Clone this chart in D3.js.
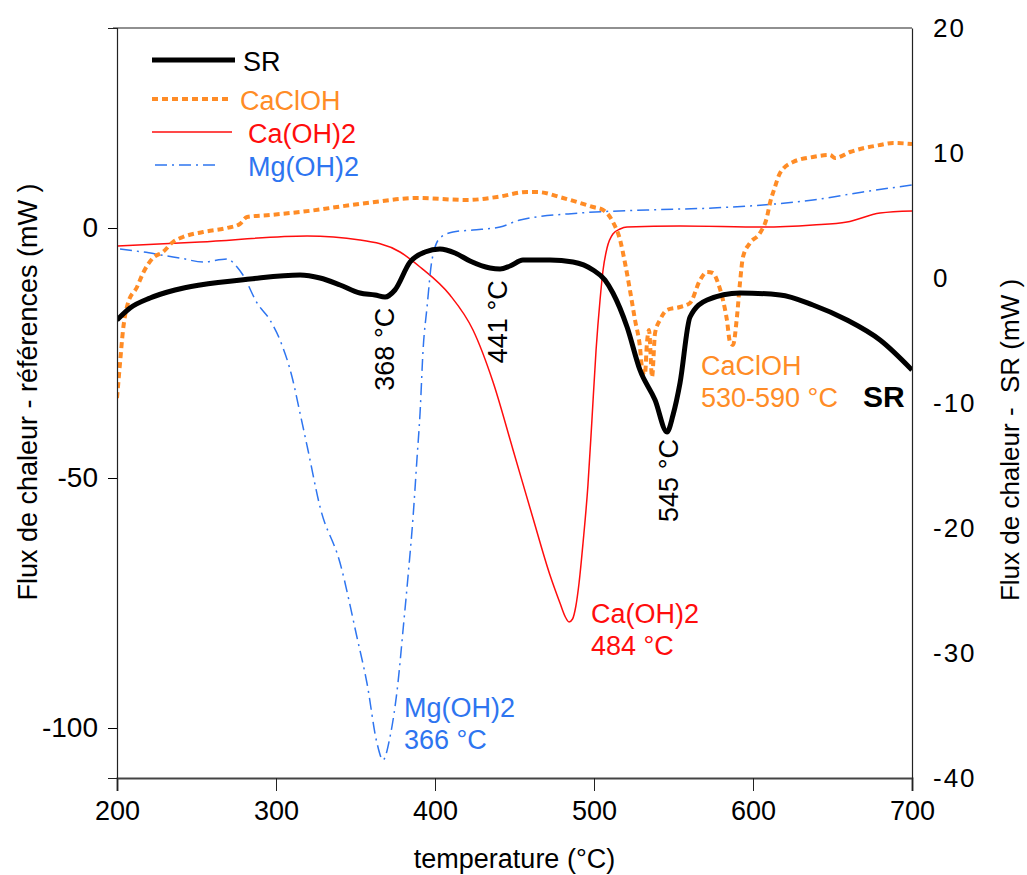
<!DOCTYPE html>
<html><head><meta charset="utf-8">
<script src="https://cdn.jsdelivr.net/npm/d3@7/dist/d3.min.js"></script>
<style>
html,body{margin:0;padding:0;background:#fff;}
svg text{font-family:"Liberation Sans",Arial,sans-serif;}
</style></head>
<body>
<svg id="chart" width="1027" height="875"></svg>
<script>
// ---- data (temperature °C, heat flow mW) ----
const srT = [200,208.2,220.8,236.5,252.2,283.6,315.1,327.7,340.3,352.8,362.3,368.6,374.8,384.3,393.7,403.1,412.6,422,434.6,440.9,447.2,455.3,472.3,486.8,499.4,506.9,511.9,520.8,528.9,538.4,545.9,549.7,554.1,560.4,571.1,591.8,617,637.7,659.1,679.9,700];
const srV = [-3.36,-2.4,-1.6,-0.96,-0.56,-0.08,0.24,0,-0.56,-1.2,-1.36,-1.52,-0.96,1.28,2.08,2.32,2.0,1.36,0.8,0.72,0.96,1.44,1.44,1.28,0.64,-0.16,-1.2,-3.92,-7.36,-9.76,-12.32,-10.96,-8.4,-3.12,-1.76,-1.2,-1.36,-2.16,-3.36,-4.96,-7.36];

const caclohT = [200,200.6,201.9,203.8,206.9,212.6,216.4,222.6,228.9,235.2,241.5,254.1,269.2,277.3,281.8,296.2,315.1,357.2,388.7,420.1,439,457.9,464.2,480.5,499.4,505.7,511.9,516.4,519.5,522.6,525.8,528.9,530.2,532,533.3,534.6,536.5,538.4,541.5,545.9,554.1,560.4,566.7,571.1,574.8,578,581.1,583.6,585.5,587.4,589.9,591.8,593.7,598.1,604.4,608.8,610.7,613.8,617,625.2,637.7,648.4,651.6,661,679.9,688.1,700];
const caclohV = [-34,-31.8,-27,-20.4,-15,-11.8,-9,-6,-4.8,-2.8,-1.8,-0.8,0,0.8,2.2,2.6,3.2,5,6,5.6,6.2,7.2,7.2,6,4.2,3.6,1.2,-2.4,-7,-12.4,-18.4,-23.8,-28,-29.4,-23,-20.4,-29.8,-21,-18.4,-16.4,-15.8,-15,-10.4,-8.8,-9,-11,-14.4,-18.4,-22.8,-23.4,-17.8,-11,-5.8,-3,-1,2.2,5,8.2,11,13.2,14.2,14.6,14,15.2,16.6,17,16.8];

const caohT = [200,252.2,319.5,352.8,378,390.6,409.4,423.9,436.5,449.1,461.6,472.3,478.6,482,484.3,486.5,488.6,490.6,493.1,496.2,498.7,501.3,503.8,505.7,508.2,511.9,516.4,520.8,554.1,606.3,637.7,659.1,679.9,700];
const caohV = [-3.6,-2.8,-1.6,-2.4,-4.8,-7.8,-13.4,-20.4,-30.8,-44.4,-58,-69.4,-75,-77.8,-78.8,-78.2,-75.6,-71,-63,-51.4,-38.4,-24.4,-14.4,-8.4,-4,-1.2,-0.2,0.2,0.4,0.2,0.6,1.2,3,3.4];

const mgohT = [201.9,216.4,231.4,239.6,254.1,269.2,275.5,279.2,288.1,296.2,302.5,310.1,315.1,320.1,327.7,340.3,350.9,357.2,363.5,367.3,371.7,376.7,379.9,383,386.2,388.7,390.6,392.5,395,398.1,403.1,411.3,423.9,440.9,453.5,491.2,533.3,574.8,606.3,637.7,669.2,700];
const mgohV = [-4.2,-4.8,-5.6,-6,-6.8,-6.2,-7.8,-9.4,-15,-18.4,-22.4,-29.8,-37,-44.4,-55.8,-67,-81.8,-91,-103,-106.4,-101.8,-91,-80.4,-69.8,-57.8,-46,-37,-24.4,-15.8,-6.4,-2,-0.8,-0.4,0.2,1.6,3,3.6,4,4.6,5.6,7.2,8.6];

const xTicks = [200,300,400,500,600,700];
const leftTicks = [-100,-50,0];
const rightTicks = [20,10,0,-10,-20,-30,-40];
const legendNames = ["SR","CaClOH","Ca(OH)2","Mg(OH)2"];

// ---- layout ----
const svg = d3.select("#chart");
const L = 117, R = 912, T = 28, B = 778;
const x = d3.scaleLinear().domain([200,700]).range([L,R]);
const yL = d3.scaleLinear().domain([-110,40]).range([B,T]);
const yR = d3.scaleLinear().domain([-40,20]).range([B,T]);
const fmt = d => String(d);

const colors = {SR:"#000000", CaClOH:"#ff8c26", "Ca(OH)2":"#ff0d0d", "Mg(OH)2":"#2e75f0"};
const styles = {
  SR:{w:5, dash:null},
  CaClOH:{w:4, dash:"6,4"},
  "Ca(OH)2":{w:1.5, dash:null},
  "Mg(OH)2":{w:1.5, dash:"12,5,2,5"}
};

svg.append("clipPath").attr("id","clip").append("rect")
  .attr("x",L).attr("y",T-2).attr("width",R-L).attr("height",B-T+4);

function drawSeries(name, ts, vs, yScale){
  const data = ts.map((t,i)=>[t,vs[i]]);
  const line = d3.line().x(d=>x(d[0])).y(d=>yScale(d[1])).curve(d3.curveMonotoneX);
  svg.append("path").datum(data)
    .attr("d",line).attr("fill","none")
    .attr("stroke",colors[name]).attr("stroke-width",styles[name].w)
    .attr("stroke-dasharray",styles[name].dash)
    .attr("stroke-linejoin","round")
    .attr("clip-path","url(#clip)");
}
drawSeries("Ca(OH)2", caohT, caohV, yL);
drawSeries("Mg(OH)2", mgohT, mgohV, yL);
drawSeries("CaClOH", caclohT, caclohV, yL);
drawSeries("SR", srT, srV, yR);

// ---- frame & axes ----
svg.append("line").attr("x1",L-4).attr("x2",R).attr("y1",T).attr("y2",T).attr("stroke","#222").attr("stroke-width",1.2);

const xAxis = svg.append("g").attr("transform",`translate(0,${B})`)
  .call(d3.axisBottom(x).tickValues(xTicks).tickSize(13).tickPadding(10).tickFormat(fmt));
xAxis.select(".domain").attr("stroke","#444").attr("stroke-width",2);
xAxis.selectAll(".tick line").attr("stroke","#222");
xAxis.selectAll("text").attr("font-size",27).attr("fill","#000").attr("font-family","Liberation Sans, Arial, sans-serif");

const lAxis = svg.append("g").attr("transform",`translate(${L},0)`)
  .call(d3.axisLeft(yL).tickValues(leftTicks).tickSize(9).tickPadding(10).tickFormat(fmt));
lAxis.select(".domain").attr("stroke","#222").attr("stroke-width",1.2);
lAxis.selectAll("text").attr("font-size",28).attr("fill","#000").attr("font-family","Liberation Sans, Arial, sans-serif");

const rAxis = svg.append("g").attr("transform",`translate(${R},0)`)
  .call(d3.axisRight(yR).tickValues(rightTicks).tickSize(0).tickPadding(21).tickFormat(fmt));
rAxis.select(".domain").attr("stroke","#222").attr("stroke-width",1.2);
rAxis.selectAll("text").attr("font-size",26).attr("letter-spacing",2).attr("fill","#000").attr("font-family","DejaVu Sans, Verdana, sans-serif");

// axis titles
svg.append("text").attr("x",(L+R)/2).attr("y",868).attr("text-anchor","middle")
  .attr("font-size",27).text("temperature (°C)");
svg.append("text").attr("transform","translate(37,392) rotate(-90)").attr("text-anchor","middle")
  .attr("font-size",27).text("Flux de chaleur - références (mW )");
svg.append("text").attr("transform","translate(1019,440) rotate(-90)").attr("text-anchor","middle")
  .attr("font-size",26).style("white-space","pre").text("Flux de chaleur -  SR (mW )");

// ---- legend ----
const legendRows = [
  {y:60, x1:152, x2:235, tx:243},
  {y:99, x1:152, x2:230, tx:240},
  {y:132, x1:152, x2:232, tx:248},
  {y:165, x1:155, x2:220, tx:248}
];
legendRows.forEach((r,i)=>{
  const n = legendNames[i];
  svg.append("line").attr("x1",r.x1).attr("x2",r.x2).attr("y1",r.y).attr("y2",r.y)
    .attr("stroke",colors[n]).attr("stroke-width",styles[n].w).attr("stroke-dasharray",styles[n].dash);
  svg.append("text").attr("x",r.tx).attr("y",r.y+11).attr("font-size",27).attr("fill",colors[n]).text(n);
});

// ---- annotations ----
function rot(label, t, v, yScale, dx){
  svg.append("text").attr("transform",`translate(${x(t)+dx},${yScale(v)}) rotate(-90)`)
    .attr("text-anchor","middle").attr("font-size",27).attr("fill","#000").text(label);
}
rot("368 °C", 368, -5.7, yR, 10);
rot("441 °C", 441, -3.5, yR, 7);
rot("545 °C", 545, -16.2, yR, 12);

function multi(lines, t, v, yScale, color, size, weight){
  lines.forEach((s,i)=>{
    svg.append("text").attr("x",x(t)).attr("y",yScale(v)+i*32)
      .attr("font-size",size).attr("font-weight",weight||"normal").attr("fill",color).text(s);
  });
}
multi(["Mg(OH)2","366 °C"], 380.5, -97.8, yL, colors["Mg(OH)2"], 27);
multi(["Ca(OH)2","484 °C"], 498.1, -79, yL, colors["Ca(OH)2"], 27);
multi(["CaClOH","530-590 °C"], 567.3, -7.76, yR, colors.CaClOH, 27);
multi(["SR"], 669.2, -10.32, yR, "#000", 30, "bold");
</script>
</body></html>
